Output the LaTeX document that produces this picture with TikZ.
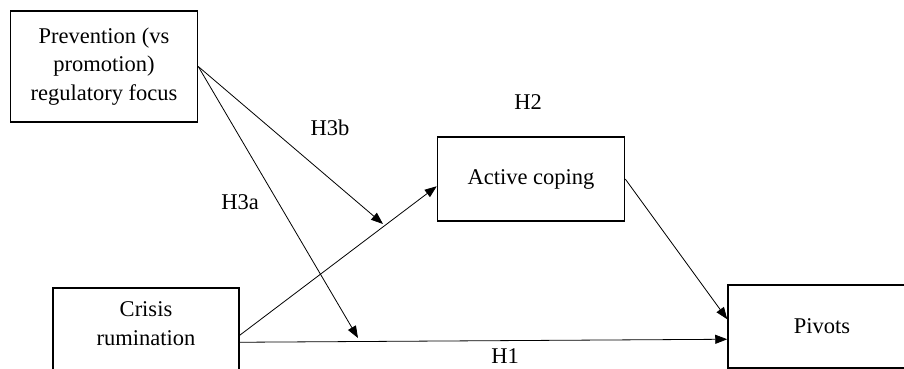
\documentclass[tikz,border=0pt]{standalone}
\usepackage{fontspec}
\setmainfont{Liberation Serif}
\usetikzlibrary{arrows.meta,calc}
\begin{document}
\begin{tikzpicture}[x=1pt,y=-1pt,
  box/.style={draw, line width=1.5pt, inner sep=0pt, align=center,
    minimum width=187pt, font=\fontsize{22.5}{28.5}\selectfont},
  lab/.style={inner sep=0pt, font=\fontsize{22.5}{28.5}\selectfont},
  arr/.style={-{Triangle[length=12pt,width=9pt]}, line width=0.8pt}]
\clip (0,0) rectangle (904,369);
\fill[white] (0,0) rectangle (904,369);
% boxes
\node[box, minimum height=111pt] (prev) at (104,66.5) {Prevention (vs\\promotion)\\regulatory focus};
\node[box, minimum height=84pt] (active) at (531,179) {Active coping};
\node[box, minimum height=83pt, minimum width=188pt] (pivots) at (822,326.5) {Pivots};
\node[box, minimum height=108pt, minimum width=186pt] (crisis) at (146,342) {Crisis\\rumination\\\strut};
% labels
\node[lab] (h1) at (505,356) {H1};
\node[lab] (h2) at (528,102) {H2};
\node[lab] (h3a) at (240,202) {H3a};
\node[lab] (h3b) at (330,128) {H3b};
% connector end points
\coordinate (c1) at ($(crisis.north east)+(0,48)$);
\coordinate (c2) at ($(crisis.north east)+(0,55)$);
\coordinate (a1) at ($(active.north west)+(0,50)$);
\coordinate (p1) at ($(pivots.north west)+(0,35)$);
\coordinate (p2) at ($(pivots.north west)+(0,55)$);
\coordinate (m3b) at (383,224);
\coordinate (m3a) at (358,338);
% connectors
\draw[arr] (c1) -- (a1);
\draw[arr] (c2) -- (p2);
\draw[arr] (active.east) -- (p1);
\draw[arr] (prev.east) -- (m3b);
\draw[arr] (prev.east) -- (m3a);
\end{tikzpicture}
\end{document}
